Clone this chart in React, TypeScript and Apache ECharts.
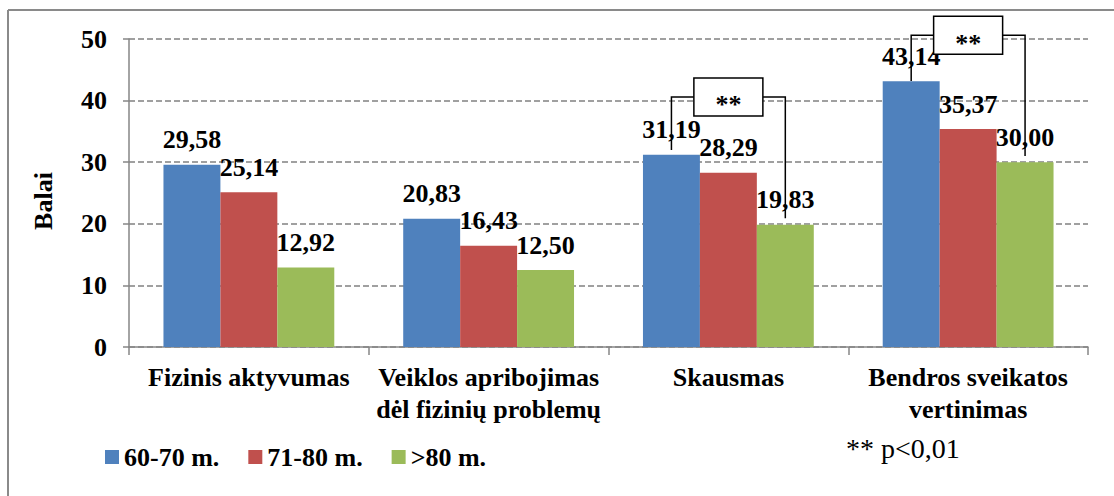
import React, { useEffect, useRef } from "react";
import * as echarts from "echarts";

const categories = [
  "Fizinis aktyvumas",
  "Veiklos apribojimas\ndėl fizinių problemų",
  "Skausmas",
  "Bendros sveikatos\nvertinimas",
];
const seriesNames = ["60-70 m.", "71-80 m.", ">80 m."];
const values6070 = [29.58, 20.83, 31.19, 43.14];
const values7180 = [25.14, 16.43, 28.29, 35.37];
const values80 = [12.92, 12.5, 19.83, 30.0];
const colors = ["#4F81BD", "#C0504D", "#9BBB59"];
const yMin = 0;
const yMax = 50;
const yInterval = 10;
const yTitle = "Balai";
const bracketCategories = [2, 3];
const bracketLevels = [40.6, 50.6];
const bracketLeftEnds = [32.0, 43.2];
const bracketRightEnds = [20.9, 31.0];
const bracketMark = "**";
const footnote = "** p<0,01";

const FONT = "Liberation Serif";
const GAP = 0.2875;

const fmt = (v: number) => v.toFixed(2).replace(".", ",");

export default function App() {
  const ref = useRef<HTMLDivElement>(null);
  useEffect(() => {
    if (!ref.current) return;
    const chart = echarts.init(ref.current, undefined, { renderer: "svg" });
    const seriesData = [values6070, values7180, values80];
    const bars = seriesNames.map((name, i) => ({
      name,
      type: "bar",
      data: seriesData[i],
      barGap: "0%",
      barCategoryGap: GAP * 100 + "%",
      itemStyle: { color: colors[i] },
      label: {
        show: true,
        position: "top",
        distance: 12,
        formatter: (p: any) => fmt(p.value),
        fontFamily: FONT,
        fontWeight: "bold",
        fontSize: 26,
        color: "#000",
      },
    }));
    const bracketData = bracketCategories.map((c, i) => [
      c,
      bracketLevels[i],
      bracketLeftEnds[i],
      bracketRightEnds[i],
    ]);
    const lineStyle = { stroke: "#000", lineWidth: 1.5, fill: "none" };
    const custom = {
      type: "custom",
      z: 5,
      encode: { x: 0, y: 1 },
      data: bracketData,
      renderItem: (params: any, api: any) => {
        const cat = api.value(0);
        const level = api.value(1);
        const center = api.coord([cat, level]);
        const band = api.size([1, 0])[0];
        const bw = (band * (1 - GAP)) / 3;
        const xl = center[0] - bw;
        const xr = center[0] + bw;
        const yTop = center[1];
        const yl = api.coord([cat, api.value(2)])[1];
        const yr = api.coord([cat, api.value(3)])[1];
        const mid = (xl + xr) / 2;
        const boxW = 69;
        const boxH = 38;
        return {
          type: "group",
          children: [
            {
              type: "polyline",
              shape: { points: [[xl, yl], [xl, yTop], [mid - boxW / 2, yTop]] },
              style: lineStyle,
            },
            {
              type: "polyline",
              shape: { points: [[mid + boxW / 2, yTop], [xr, yTop], [xr, yr]] },
              style: lineStyle,
            },
            {
              type: "rect",
              shape: { x: mid - boxW / 2, y: yTop - boxH / 2, width: boxW, height: boxH },
              style: { fill: "#fff", stroke: "#000", lineWidth: 1.5 },
            },
            {
              type: "text",
              style: {
                text: bracketMark,
                x: mid,
                y: yTop + 8,
                align: "center",
                verticalAlign: "middle",
                fontFamily: FONT,
                fontWeight: "bold",
                fontSize: 26,
                fill: "#000",
              },
            },
          ],
        };
      },
    };
    chart.setOption({
      animation: false,
      textStyle: { fontFamily: FONT },
      grid: { left: 129, right: 26, top: 39, bottom: 149 },
      legend: {
        data: seriesNames,
        left: 100,
        top: 439,
        icon: "rect",
        itemWidth: 14,
        itemHeight: 14,
        itemGap: 29,
        textStyle: { fontFamily: FONT, fontWeight: "bold", fontSize: 26, color: "#000" },
      },
      xAxis: {
        type: "category",
        data: categories,
        axisLine: { lineStyle: { color: "#868686", width: 1.5 } },
        axisTick: { show: true, length: 8, lineStyle: { color: "#868686", width: 1.5 } },
        axisLabel: {
          interval: 0,
          margin: 14,
          fontFamily: FONT,
          fontWeight: "bold",
          fontSize: 26,
          lineHeight: 32,
          color: "#000",
        },
      },
      yAxis: {
        type: "value",
        min: yMin,
        max: yMax,
        interval: yInterval,
        axisLine: { show: true, lineStyle: { color: "#868686", width: 1.5 } },
        axisTick: { show: true, length: 6, lineStyle: { color: "#868686", width: 1.5 } },
        axisLabel: {
          margin: 22,
          fontFamily: FONT,
          fontWeight: "bold",
          fontSize: 26,
          color: "#000",
        },
        splitLine: { lineStyle: { color: "#A0A0A0", width: 2, type: [6, 3] } },
      },
      graphic: [
        {
          type: "line",
          shape: { x1: 8, y1: 10, x2: 1114, y2: 10 },
          style: { stroke: "#8A8A8A", lineWidth: 2 },
        },
        {
          type: "line",
          shape: { x1: 8, y1: 10, x2: 8, y2: 496 },
          style: { stroke: "#8A8A8A", lineWidth: 2 },
        },
        {
          type: "text",
          x: 43,
          y: 201,
          rotation: Math.PI / 2,
          style: {
            text: yTitle,
            align: "center",
            verticalAlign: "middle",
            fontFamily: FONT,
            fontWeight: "bold",
            fontSize: 26,
            fill: "#000",
          },
        },
        {
          type: "text",
          x: 846,
          y: 448,
          style: {
            text: footnote,
            align: "left",
            verticalAlign: "middle",
            fontFamily: FONT,
            fontSize: 28,
            fill: "#000",
          },
        },
      ],
      series: [...bars, custom],
    });
    return () => chart.dispose();
  }, []);
  return (
    <div
      ref={ref}
      style={{ position: "fixed", left: 0, top: 0, width: 1114, height: 496, background: "#fff" }}
    />
  );
}
